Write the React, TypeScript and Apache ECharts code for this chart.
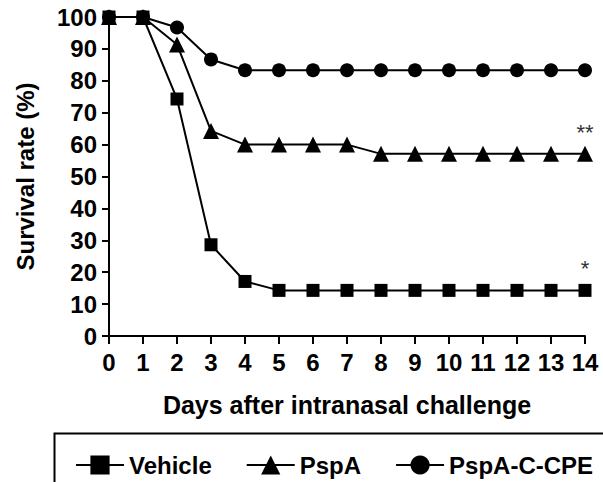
import React, { useEffect, useRef } from "react";
import * as echarts from "echarts";

const days = [0, 1, 2, 3, 4, 5, 6, 7, 8, 9, 10, 11, 12, 13, 14];
const vehicle = [100, 100, 74.3, 28.6, 17.1, 14.3, 14.3, 14.3, 14.3, 14.3, 14.3, 14.3, 14.3, 14.3, 14.3];
const pspa = [100, 100, 91.4, 64.3, 60, 60, 60, 60, 57.1, 57.1, 57.1, 57.1, 57.1, 57.1, 57.1];
const pspaCCPE = [100, 100, 96.7, 86.7, 83.3, 83.3, 83.3, 83.3, 83.3, 83.3, 83.3, 83.3, 83.3, 83.3, 83.3];
const seriesNames = ["Vehicle", "PspA", "PspA-C-CPE"];
const significance = ["*", "**", ""];

const FONT = 'Arial, "Liberation Sans", Helvetica, sans-serif';

function mk(name: string, vals: number[], symbol: string, size: number, star: string) {
  return {
    name,
    type: "line",
    data: vals.map((v, i) => {
      const pt: any = { value: [days[i], v] };
      if (i === vals.length - 1 && star) {
        pt.label = {
          show: true,
          formatter: star,
          position: "top",
          distance: star === "*" ? 4 : 2,
          color: "#333",
          fontSize: 22,
          fontFamily: FONT,
        };
      }
      return pt;
    }),
    symbol,
    symbolSize: size,
    showAllSymbol: true,
    itemStyle: { color: "#000" },
    lineStyle: { color: "#000", width: 2 },
    z: 3,
  };
}

export default function App() {
  const ref = useRef<HTMLDivElement>(null);
  useEffect(() => {
    if (!ref.current) return;
    const chart = echarts.init(ref.current, null, { renderer: "svg" });
    chart.setOption({
      animation: false,
      backgroundColor: "#fff",
      grid: { left: 109, right: 18, top: 17, bottom: 146, containLabel: false },
      xAxis: {
        type: "value",
        min: 0,
        max: 14,
        interval: 1,
        name: "Days after intranasal challenge",
        nameLocation: "middle",
        nameGap: 56,
        nameTextStyle: { fontSize: 25, fontWeight: "bold", color: "#000", fontFamily: FONT },
        axisLine: { show: true, lineStyle: { color: "#000", width: 2 } },
        axisTick: { show: true, length: 8, lineStyle: { color: "#000", width: 2 } },
        axisLabel: { fontSize: 24, fontWeight: "bold", color: "#000", margin: 14, fontFamily: FONT },
        splitLine: { show: false },
      },
      yAxis: {
        type: "value",
        min: 0,
        max: 100,
        interval: 10,
        name: "Survival rate (%)",
        nameLocation: "middle",
        nameGap: 72,
        nameRotate: 90,
        nameTextStyle: { fontSize: 24, fontWeight: "bold", color: "#000", fontFamily: FONT },
        axisLine: { show: true, lineStyle: { color: "#000", width: 2 } },
        axisTick: { show: true, length: 7, lineStyle: { color: "#000", width: 2 } },
        axisLabel: { fontSize: 24, fontWeight: "bold", color: "#000", margin: 12, fontFamily: FONT },
        splitLine: { show: false },
      },
      legend: {
        left: 70,
        top: 448,
        itemWidth: 48,
        itemHeight: 24,
        itemGap: 34,
        data: seriesNames,
        textStyle: { fontSize: 24, fontWeight: "bold", color: "#000", fontFamily: FONT },
      },
      graphic: [
        {
          type: "rect",
          left: 52,
          top: 431,
          shape: { width: 600, height: 100 },
          style: { fill: "none", stroke: "#000", lineWidth: 2 },
          silent: true,
        },
      ],
      series: [
        mk(seriesNames[0], vehicle, "rect", 13, significance[0]),
        mk(seriesNames[1], pspa, "triangle", 16, significance[1]),
        mk(seriesNames[2], pspaCCPE, "circle", 14, significance[2]),
      ],
    });
    return () => chart.dispose();
  }, []);
  return <div ref={ref} style={{ width: 603, height: 482, position: "absolute", left: 0, top: 0 }} />;
}
